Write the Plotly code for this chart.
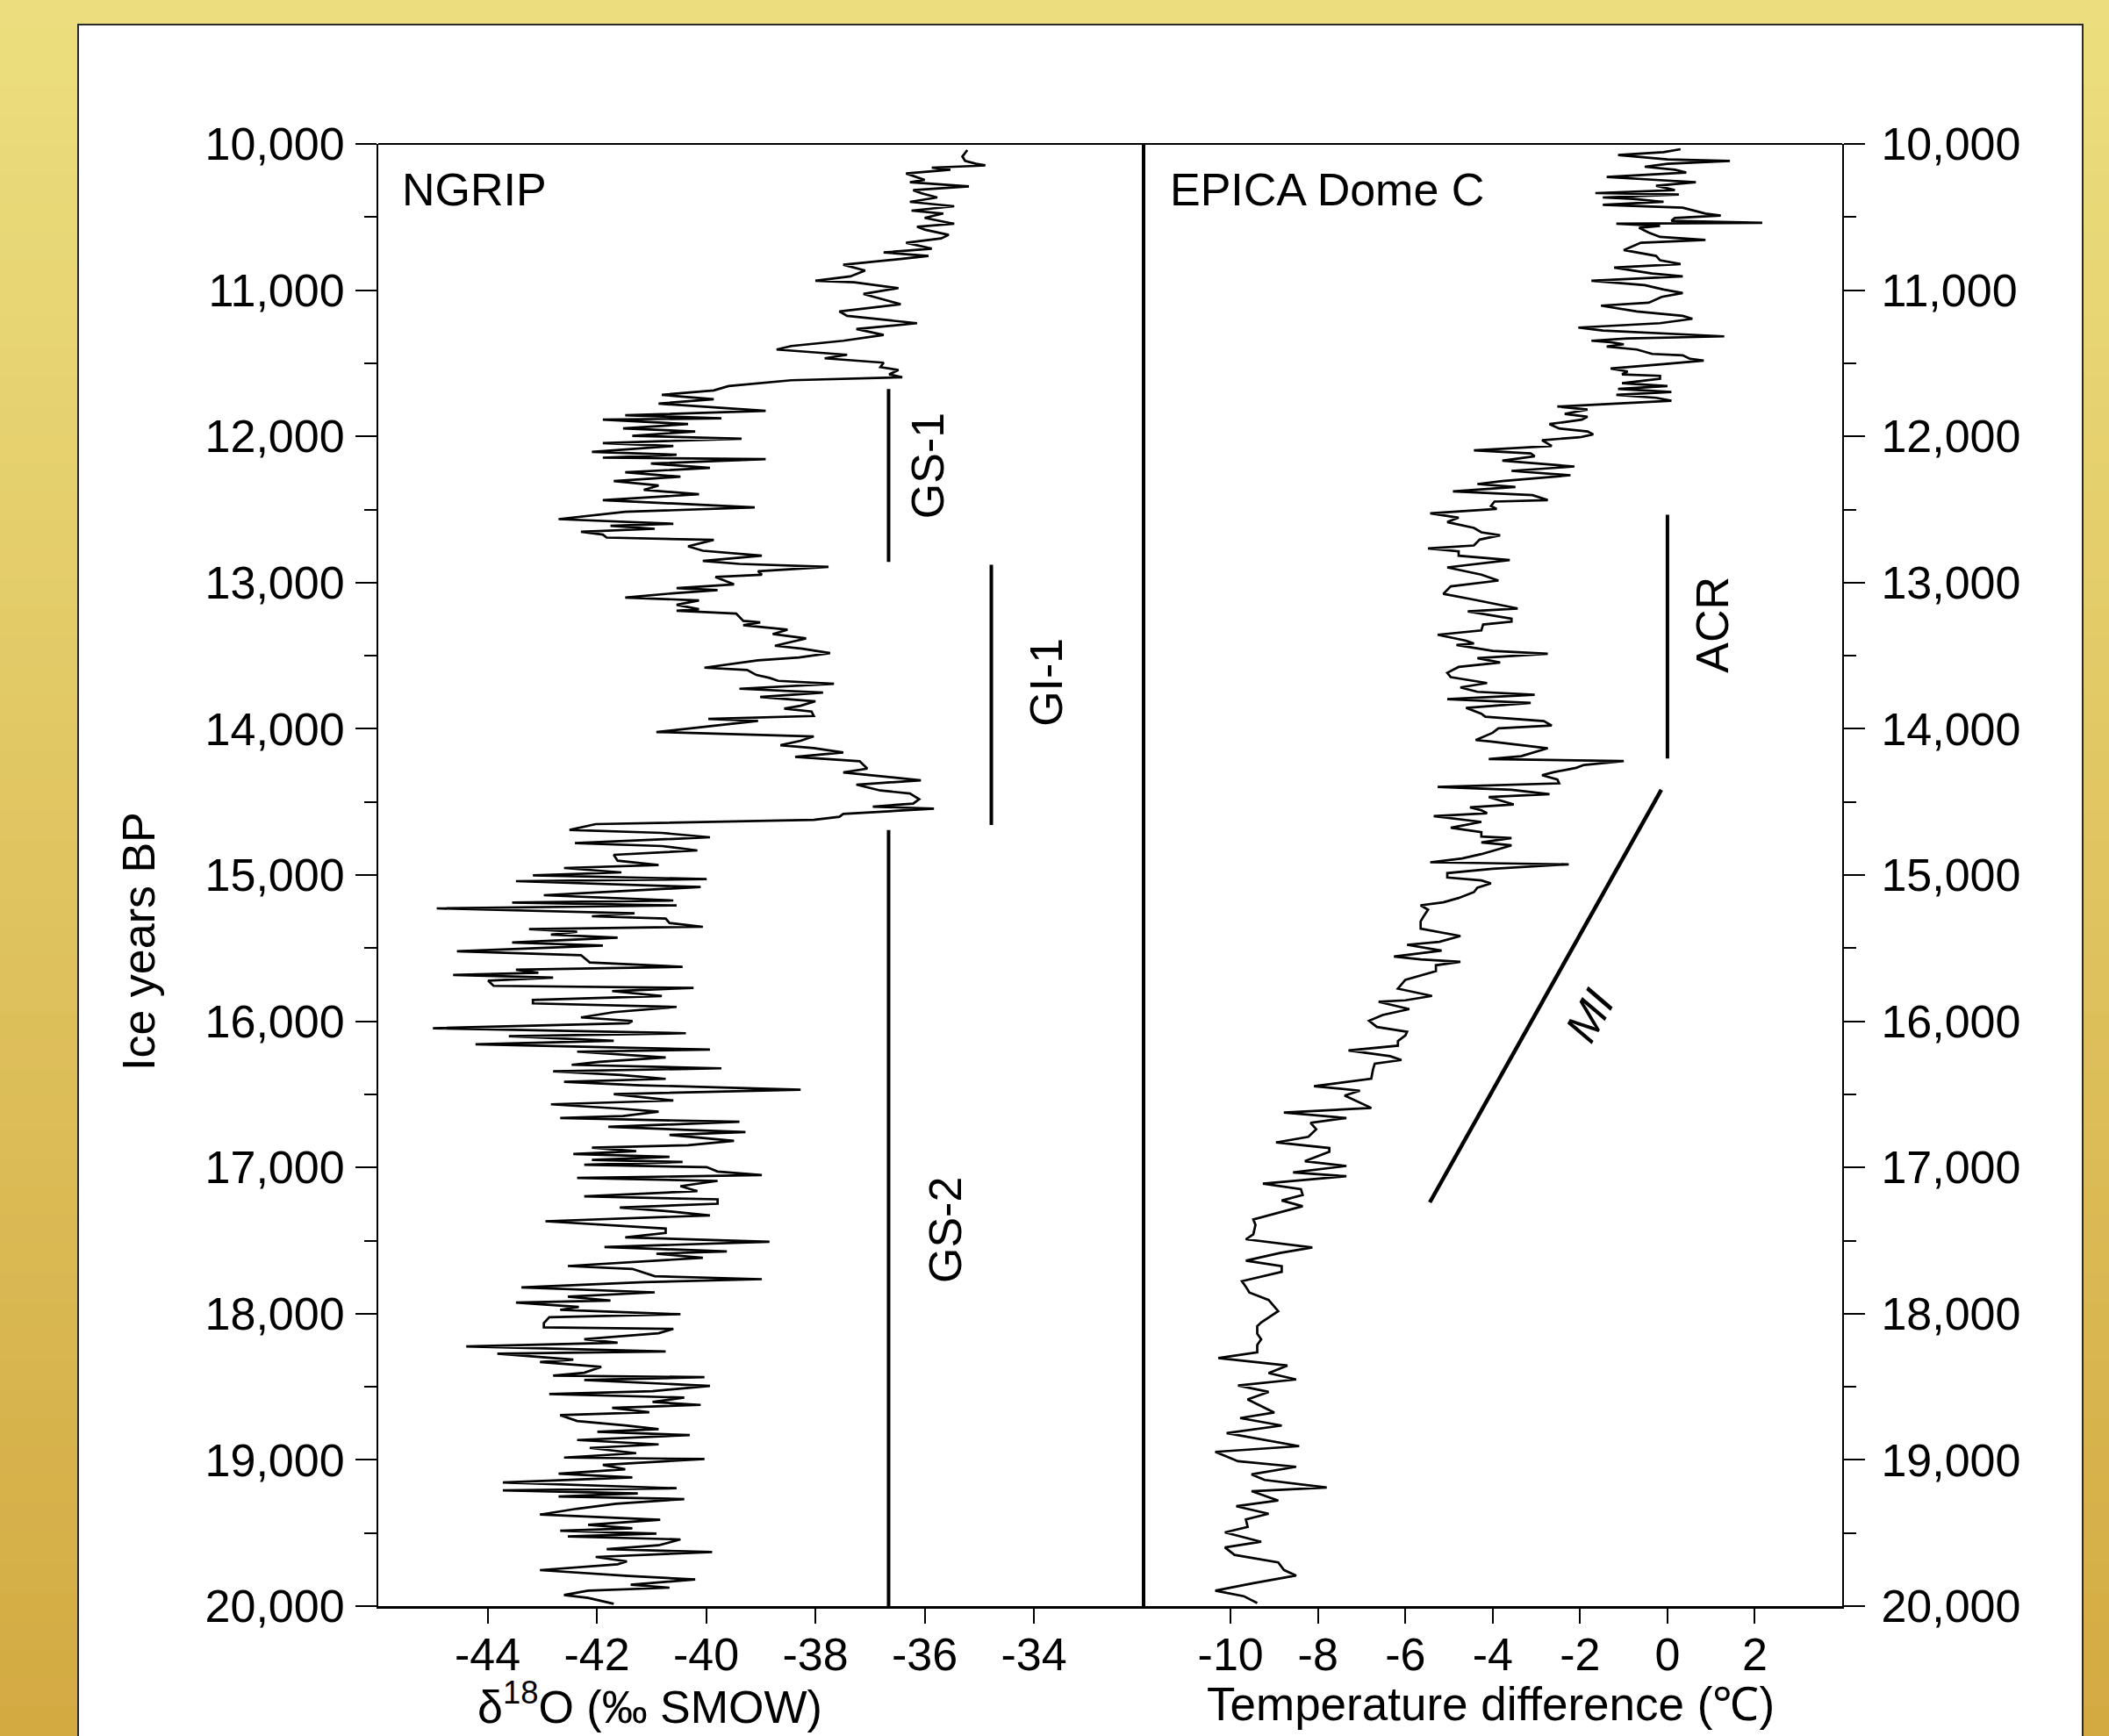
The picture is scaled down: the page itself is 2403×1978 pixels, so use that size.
import plotly.graph_objects as go

# ---------------- data ----------------
ngrip_year = [10042,10086,10116,10136,10146,10150,10162,10176,10202,10246,10262,10290,10316,10336,10366,10396,10426,10456,10476,10506,
10546,10566,10586,10622,10646,10676,10716,10742,10766,10786,10826,10866,10906,10936,10946,10986,11026,11096,11146,11176,
11226,11266,11306,11346,11382,11406,11442,11466,11496,11526,11546,11576,11596,11616,11656,11686,11716,11746,11776,11826,
11856,11876,11886,11916,11946,11966,11996,12016,12046,12066,12106,12126,12146,12156,12186,12216,12246,12276,12306,12336,
12366,12396,12436,12466,12486,12516,12566,12598,12612,12632,12652,12672,12692,12708,12752,12782,12816,12852,12872,12892,
12922,12946,12962,13012,13038,13052,13072,13102,13122,13152,13182,13192,13212,13262,13272,13292,13322,13352,13382,13432,
13452,13482,13512,13532,13582,13598,13632,13652,13672,13692,13726,13752,13782,13812,13842,13862,13882,13912,13932,13946,
13992,14022,14052,14082,14112,14132,14162,14192,14222,14272,14298,14322,14352,14382,14422,14442,14482,14512,14532,14546,
14582,14602,14622,14652,14692,14712,14742,14782,14802,14832,14862,14902,14932,14952,14982,15002,15028,15042,15082,15138,
15174,15188,15208,15228,15262,15282,15298,15328,15354,15370,15388,15408,15428,15462,15482,15522,15548,15598,15628,15648,
15668,15684,15702,15722,15758,15772,15794,15828,15854,15878,15902,15938,15974,15998,16014,16048,16082,16102,16134,16158,
16178,16194,16208,16248,16278,16298,16322,16342,16368,16394,16414,16438,16468,16498,16542,16568,16598,16618,16648,16662,
16688,16722,16758,16778,16818,16848,16864,16888,16908,16928,16948,16962,16982,16998,17028,17052,17072,17092,17128,17162,
17198,17218,17248,17274,17298,17328,17368,17418,17448,17478,17508,17544,17574,17590,17618,17674,17694,17744,17764,17784,
17820,17854,17884,17910,17924,17954,17974,18004,18024,18064,18094,18104,18134,18174,18198,18224,18258,18274,18314,18330,
18364,18404,18424,18434,18454,18494,18530,18550,18574,18604,18624,18644,18674,18694,18734,18764,18790,18808,18830,18864,
18894,18918,18954,18984,18994,19034,19064,19094,19120,19154,19194,19208,19230,19250,19268,19300,19334,19374,19410,19444,
19468,19484,19504,19524,19544,19584,19610,19630,19664,19694,19714,19754,19794,19818,19854,19874,19894,19924,19944,19984]

ngrip_d18o = [-35.22,-35.31,-35.26,-35.06,-34.89,-35.06,-35.87,-35.53,-36.34,-36.00,-36.27,-35.19,-36.21,-36.07,-35.77,-36.27,-35.46,-36.24,-35.66,-36.00,
-35.46,-36.14,-36.00,-35.56,-35.70,-36.34,-35.87,-36.75,-35.93,-36.41,-37.49,-37.09,-37.36,-38.00,-37.29,-36.48,-37.12,-36.44,-37.56,-37.42,
-36.14,-37.25,-36.75,-37.49,-38.44,-38.71,-37.42,-37.83,-36.75,-36.81,-36.48,-36.65,-36.41,-38.44,-39.59,-39.86,-40.81,-39.86,-40.87,-38.91,
-41.48,-39.72,-41.89,-40.33,-41.52,-40.20,-41.35,-39.35,-41.89,-40.60,-42.09,-40.54,-41.89,-38.91,-41.01,-39.93,-41.48,-40.47,-41.69,-40.87,
-41.14,-40.13,-41.89,-40.06,-39.11,-41.48,-42.70,-40.60,-41.75,-40.94,-42.29,-41.89,-41.82,-39.86,-40.33,-40.06,-38.98,-40.06,-39.39,-37.76,
-39.05,-38.98,-39.83,-39.49,-40.54,-39.79,-40.57,-41.48,-40.13,-40.54,-40.13,-40.54,-39.45,-39.32,-39.01,-39.32,-38.51,-38.78,-38.17,-38.74,
-38.24,-37.73,-38.30,-39.05,-40.03,-39.25,-39.08,-38.84,-38.68,-37.66,-39.39,-37.86,-39.01,-38.00,-38.27,-38.57,-38.07,-38.03,-39.96,-39.05,
-40.20,-40.91,-38.03,-38.27,-38.64,-38.03,-37.49,-38.37,-37.19,-37.05,-37.49,-36.85,-36.07,-37.25,-36.81,-36.27,-36.10,-36.21,-36.95,-35.83,
-37.49,-37.56,-38.03,-42.02,-42.50,-40.81,-39.93,-42.40,-40.81,-40.16,-41.69,-41.62,-40.87,-42.60,-41.55,-43.17,-39.99,-43.48,-40.10,-42.97,
-40.60,-43.55,-40.54,-44.93,-41.31,-42.09,-40.74,-40.67,-40.06,-43.24,-42.36,-42.84,-41.62,-43.55,-41.89,-44.56,-42.29,-42.13,-40.43,-43.48,
-43.07,-44.63,-42.80,-43.99,-43.89,-40.23,-41.72,-40.81,-43.17,-43.17,-40.54,-41.69,-42.29,-41.35,-41.42,-45.00,-40.37,-43.61,-41.69,-44.22,
-42.02,-39.93,-42.36,-40.74,-41.96,-42.46,-39.72,-42.80,-41.55,-40.74,-42.60,-41.21,-38.27,-41.69,-40.60,-42.84,-41.55,-40.87,-41.52,-42.67,
-39.39,-41.79,-39.28,-40.67,-39.49,-40.33,-42.09,-41.28,-42.43,-40.67,-42.09,-40.43,-42.23,-39.99,-39.79,-38.98,-42.36,-39.79,-40.47,-40.16,
-42.23,-39.79,-39.79,-41.58,-40.74,-39.93,-42.94,-40.74,-40.74,-41.48,-38.84,-41.86,-39.62,-40.91,-40.06,-42.53,-41.35,-40.94,-38.98,-41.14,
-43.38,-40.94,-42.53,-41.75,-43.48,-42.33,-42.67,-40.47,-42.87,-42.97,-42.97,-40.60,-40.87,-42.23,-41.62,-44.39,-40.74,-43.82,-42.43,-43.04,
-41.92,-42.23,-42.80,-40.03,-42.23,-39.93,-40.98,-42.87,-40.40,-40.98,-40.10,-41.72,-41.04,-42.67,-42.36,-41.48,-40.87,-41.99,-40.30,-42.36,
-40.87,-42.13,-41.28,-42.60,-40.03,-41.89,-41.48,-42.70,-41.35,-43.72,-40.54,-43.72,-41.25,-42.70,-40.40,-41.65,-42.36,-43.04,-40.84,-42.16,
-41.35,-42.67,-40.91,-42.53,-40.47,-40.87,-41.82,-39.89,-42.02,-41.45,-41.62,-43.04,-41.42,-40.20,-41.38,-40.67,-42.16,-42.60,-42.16,-41.69]

epica_year = [10036,10056,10076,10096,10106,10116,10136,10156,10176,10196,10226,10246,10262,10286,10316,10336,10346,10366,10376,10396,
10416,10436,10456,10476,10490,10506,10526,10540,10546,10560,10574,10606,10636,10656,10676,10706,10726,10766,10796,10822,
10846,10886,10906,10936,10966,10996,11020,11046,11086,11106,11146,11176,11196,11226,11256,11276,11286,11316,11330,11346,
11356,11370,11386,11406,11436,11446,11470,11482,11506,11536,11556,11576,11586,11606,11636,11656,11676,11696,11716,11736,
11756,11776,11796,11816,11846,11866,11886,11916,11946,11966,11986,12006,12026,12066,12096,12116,12136,12166,12206,12236,
12266,12306,12326,12346,12376,12402,12436,12446,12476,12496,12526,12556,12586,12626,12656,12676,12706,12746,12766,12786,
12816,12846,12866,12896,12946,12986,13026,13077,13117,13177,13197,13227,13247,13267,13287,13327,13357,13397,13417,13427,
13467,13487,13517,13547,13577,13617,13647,13687,13717,13747,13767,13797,13823,13857,13897,13917,13947,13977,13997,14027,
14077,14087,14133,14187,14207,14221,14247,14267,14297,14317,14347,14373,14397,14417,14447,14467,14517,14537,14557,14577,
14597,14637,14677,14707,14737,14747,14777,14797,14857,14887,14913,14927,14957,14987,15017,15037,15057,15087,15117,15157,
15187,15207,15237,15277,15317,15367,15397,15417,15457,15477,15517,15557,15577,15593,15617,15657,15717,15777,15827,15857,
15867,15917,15957,15997,16039,16072,16098,16136,16167,16200,16239,16265,16290,16329,16393,16444,16475,16508,16593,16624,
16662,16695,16739,16790,16829,16867,16893,16957,16990,17034,17060,17111,17149,17188,17226,17265,17355,17393,17457,17491,
17547,17585,17637,17675,17714,17778,17816,17855,17906,17983,18060,18086,18137,18175,18214,18265,18304,18355,18406,18450,
18491,18535,18586,18676,18714,18765,18817,18906,18945,19009,19047,19099,19137,19189,19214,19278,19317,19368,19407,19458,
19496,19560,19599,19650,19701,19753,19791,19843,19894,19932,19979]

epica_dt = [0.30,-0.09,-1.13,-0.35,0.00,1.43,0.00,-0.52,0.17,0.43,-1.39,-0.26,0.65,-0.26,0.17,-1.65,0.26,-1.48,-0.78,-0.09,
-1.48,0.35,0.61,0.87,1.22,0.17,0.09,2.17,-1.17,-0.17,-0.65,-0.43,-0.17,0.87,-0.61,-0.83,-1.00,-0.26,-0.17,0.30,
-1.22,-0.35,0.35,-1.74,-0.52,-0.09,0.35,-0.13,-0.43,-1.52,-0.70,0.35,0.57,-0.17,-2.04,-1.48,-0.70,1.30,-0.91,-1.74,
-1.30,-1.00,-1.39,-0.70,-0.35,0.35,0.52,0.83,-0.09,-1.30,-0.91,-1.04,-0.17,-0.17,-1.04,0.00,-1.13,0.09,-1.17,-0.26,
0.09,-1.22,-2.52,-1.83,-2.35,-1.83,-1.96,-2.70,-2.48,-1.83,-1.70,-2.00,-2.87,-2.65,-4.43,-3.13,-3.04,-3.78,-2.13,-3.57,
-2.22,-3.78,-4.35,-3.48,-4.91,-3.09,-2.74,-3.96,-4.04,-3.91,-5.43,-4.78,-5.04,-4.43,-4.26,-3.83,-4.30,-4.43,-5.48,-4.78,
-4.78,-3.61,-4.22,-5.04,-4.26,-3.87,-4.96,-5.13,-4.43,-3.43,-4.57,-4.00,-3.57,-3.57,-4.22,-4.26,-5.26,-4.61,-4.43,-4.83,
-4.00,-2.74,-4.35,-3.83,-4.78,-5.04,-4.96,-4.13,-4.74,-4.35,-3.04,-5.04,-3.13,-4.61,-4.26,-4.17,-2.83,-2.65,-3.87,-4.00,
-4.39,-4.04,-2.74,-3.35,-4.09,-1.00,-1.91,-2.09,-2.61,-2.87,-2.52,-2.48,-5.26,-3.57,-2.70,-4.09,-3.52,-4.52,-4.26,-4.13,
-5.35,-4.26,-4.96,-4.26,-4.26,-3.57,-4.26,-3.57,-4.26,-4.70,-5.43,-2.26,-4.00,-5.04,-5.04,-4.26,-4.04,-4.35,-4.43,-4.78,
-5.13,-5.65,-5.48,-5.57,-5.65,-5.65,-5.13,-4.74,-5.22,-5.96,-5.17,-6.26,-5.65,-4.74,-5.30,-5.30,-6.00,-6.17,-5.39,-6.00,
-6.61,-5.91,-6.52,-6.83,-6.65,-5.96,-6.00,-6.17,-6.17,-7.30,-6.35,-6.09,-6.70,-6.74,-6.78,-8.09,-7.04,-7.39,-6.78,-8.78,
-7.35,-8.17,-8.04,-8.22,-8.96,-7.74,-7.74,-8.30,-7.35,-8.57,-7.35,-9.26,-8.39,-8.35,-8.83,-8.35,-9.48,-9.43,-9.48,-9.65,
-8.13,-8.87,-9.65,-8.83,-8.83,-9.74,-9.65,-9.57,-9.13,-8.91,-9.30,-9.39,-9.39,-9.30,-9.39,-9.39,-10.28,-8.70,-9.13,-8.50,
-9.83,-9.13,-9.61,-9.00,-9.78,-8.83,-10.09,-8.43,-10.35,-9.83,-8.50,-9.52,-9.22,-7.80,-9.52,-8.91,-9.87,-9.13,-9.65,-9.61,
-10.13,-9.30,-10.13,-9.91,-8.91,-8.78,-8.50,-9.48,-10.35,-9.70,-9.39]

# stratigraphic bars
ngrip_events = ["GS-1", "GI-1", "GS-2"]
ngrip_event_x = [-36.66, -34.78, -36.66]
ngrip_event_start = [11676, 12878, 14692]
ngrip_event_end = [12858, 14658, 20000]
ngrip_label_x = [-35.95, -33.78, -35.62]
ngrip_label_year = [12200, 13680, 17430]

epica_events = ["ACR"]
epica_event_x = [0.0]
epica_event_start = [12536]
epica_event_end = [14203]
epica_label_x = [1.02]
epica_label_year = [13290]

mi_x = [-5.44, -0.14]
mi_year = [17239, 14417]

y_ticks = [10000, 11000, 12000, 13000, 14000, 15000, 16000, 17000, 18000, 19000, 20000]
x1_ticks = [-44, -42, -40, -38, -36, -34]
x1_labels = ["-44", "-42", "-40", "-38", "-36", "-34"]
x2_ticks = [-10, -8, -6, -4, -2, 0, 2]
x2_labels = ["-10", "-8", "-6", "-4", "-2", "0", "2"]

# ---------------- figure ----------------
FONT = "Liberation Sans, Arial, Helvetica, sans-serif"
W, H = 2403, 1978
ML, MR, MT, MB = 431, 304, 164, 148
PW, PH = W - ML - MR, H - MT - MB
SPLIT = (1302.6 - ML) / PW


def px(X):
    return (X - ML) / PW


def py(Y):
    return (H - MB - Y) / PH


fig = go.Figure()

fig.add_trace(go.Scatter(x=ngrip_d18o, y=ngrip_year, mode="lines",
                         line=dict(color="black", width=2.7), xaxis="x", yaxis="y",
                         showlegend=False, hoverinfo="skip"))
fig.add_trace(go.Scatter(x=epica_dt, y=epica_year, mode="lines",
                         line=dict(color="black", width=2.7), xaxis="x2", yaxis="y2",
                         showlegend=False, hoverinfo="skip"))

for i in range(len(ngrip_events)):
    fig.add_trace(go.Scatter(x=[ngrip_event_x[i], ngrip_event_x[i]],
                             y=[ngrip_event_start[i], ngrip_event_end[i]], mode="lines",
                             line=dict(color="black", width=4), xaxis="x", yaxis="y",
                             showlegend=False, hoverinfo="skip"))
for i in range(len(epica_events)):
    fig.add_trace(go.Scatter(x=[epica_event_x[i], epica_event_x[i]],
                             y=[epica_event_start[i], epica_event_end[i]], mode="lines",
                             line=dict(color="black", width=4), xaxis="x2", yaxis="y2",
                             showlegend=False, hoverinfo="skip"))
fig.add_trace(go.Scatter(x=mi_x, y=mi_year, mode="lines",
                         line=dict(color="black", width=4.5), xaxis="x2", yaxis="y2",
                         showlegend=False, hoverinfo="skip"))

# background gradient
shapes = []
top = (236, 222, 126)
bot = (211, 170, 66)
N = 60
for k in range(N):
    t = (k + 0.5) / N
    c = tuple(int(round(top[j] + (bot[j] - top[j]) * t)) for j in range(3))
    y0 = k * H / N
    y1 = (k + 1) * H / N + 1
    shapes.append(dict(type="rect", xref="paper", yref="paper", layer="below",
                       x0=px(-5), x1=px(W + 5), y0=py(y1), y1=py(y0),
                       fillcolor="rgb(%d,%d,%d)" % c, line=dict(width=0)))
# white frame
shapes.append(dict(type="rect", xref="paper", yref="paper", layer="below",
                   x0=px(89), x1=px(2373), y0=py(H + 20), y1=py(28),
                   fillcolor="white", line=dict(color="#2a2a2a", width=2)))
# top border of plot area
shapes.append(dict(type="line", xref="paper", yref="paper", x0=0, x1=1, y0=1, y1=1,
                   line=dict(color="black", width=2)))

annotations = []
tf = dict(family=FONT, size=52, color="black")
for i in range(len(ngrip_events)):
    annotations.append(dict(x=ngrip_label_x[i], y=ngrip_label_year[i], xref="x", yref="y",
                            text=ngrip_events[i], textangle=-90, showarrow=False, font=tf,
                            xanchor="center", yanchor="middle"))
for i in range(len(epica_events)):
    annotations.append(dict(x=epica_label_x[i], y=epica_label_year[i], xref="x2", yref="y2",
                            text=epica_events[i], textangle=-90, showarrow=False, font=tf,
                            xanchor="center", yanchor="middle"))
annotations.append(dict(x=-1.78, y=15960, xref="x2", yref="y2", text="<i>MI</i>",
                        textangle=-60.6, showarrow=False, font=tf))
annotations.append(dict(x=-45.6, y=10310, xref="x", yref="y", text="NGRIP",
                        showarrow=False, font=tf, xanchor="left", yanchor="middle"))
annotations.append(dict(x=-11.42, y=10310, xref="x2", yref="y2", text="EPICA Dome C",
                        showarrow=False, font=tf, xanchor="left", yanchor="middle"))
annotations.append(dict(x=-41.03, y=py(1941), xref="x", yref="paper",
                        text="δ<sup>18</sup>O (‰ SMOW)", showarrow=False, font=tf,
                        xanchor="center", yanchor="middle"))
annotations.append(dict(x=-4.05, y=py(1941), xref="x2", yref="paper",
                        text="Temperature difference (℃)", showarrow=False,
                        font=dict(family=FONT, size=53, color="black"),
                        xanchor="center", yanchor="middle"))
annotations.append(dict(x=px(158), y=py(1073), xref="paper", yref="paper",
                        text="Ice years BP", textangle=-90, showarrow=False, font=tf,
                        xanchor="center", yanchor="middle"))

common_y = dict(range=[20000, 10000], tickvals=y_ticks, tickformat=",d",
                ticks="outside", ticklen=24, tickwidth=2, tickcolor="black",
                showline=True, linecolor="black", linewidth=2, mirror=True,
                showgrid=False, zeroline=False, tickfont=tf,
                minor=dict(dtick=500, ticks="outside", ticklen=14, tickwidth=2,
                           tickcolor="black", showgrid=False))
common_x = dict(ticks="outside", ticklen=17, tickwidth=2, tickcolor="black",
                showline=True, linecolor="black", linewidth=3, mirror=False,
                showgrid=False, zeroline=False, tickfont=tf, ticklabelstandoff=-9)

fig.update_layout(
    width=W, height=H,
    margin=dict(l=ML, r=MR, t=MT, b=MB),
    paper_bgcolor="rgb(224,196,96)",
    plot_bgcolor="rgba(0,0,0,0)",
    font=dict(family=FONT, color="black"),
    xaxis=dict(domain=[0, SPLIT], range=[-46, -32], tickvals=x1_ticks, ticktext=x1_labels,
               anchor="y", **common_x),
    xaxis2=dict(domain=[SPLIT, 1], range=[-12, 4], tickvals=x2_ticks, ticktext=x2_labels,
                anchor="y2", **common_x),
    yaxis=dict(domain=[0, 1], anchor="x", side="left", ticklabelstandoff=2, **common_y),
    yaxis2=dict(domain=[0, 1], anchor="x2", side="right", ticklabelstandoff=8, **common_y),
    shapes=shapes,
    annotations=annotations,
    showlegend=False,
)

fig.write_html("out.html", config={"displayModeBar": False},
               post_script="document.body.style.margin='0px';document.body.style.overflow='hidden';")
